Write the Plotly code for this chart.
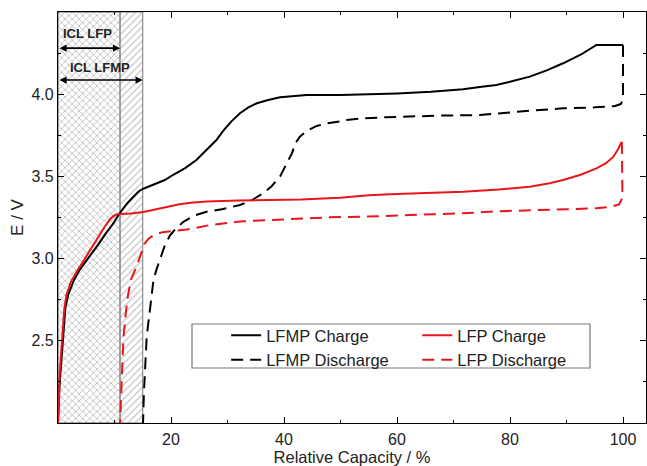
import plotly.graph_objects as go

# ---------------- data ----------------
lfmp_charge_x = [0, 0.1, 0.3, 0.65, 1.0, 1.3, 1.8, 2.7, 3.8, 5.1, 6.2, 7.2, 8.5, 9.8, 11.0, 12.2,
                 13.3, 14.3, 15.1, 16.5, 18.9, 20.4, 22.5, 24.5, 26.3, 28.0, 29.3, 30.7, 32.2,
                 33.7, 35.2, 37.2, 39.3, 42.0, 44.0, 50.0, 55.0, 60.0, 66.0, 71.7, 75.0, 77.6,
                 80.5, 83.5, 86.5, 89.4, 92.5, 95.3, 100.0]
lfmp_charge_y = [2.0, 2.1, 2.25, 2.40, 2.58, 2.70, 2.78, 2.86, 2.93, 2.99, 3.04, 3.09, 3.155,
                 3.215, 3.28, 3.335, 3.375, 3.41, 3.425, 3.445, 3.478, 3.51, 3.55, 3.60, 3.66,
                 3.72, 3.78, 3.835, 3.884, 3.92, 3.945, 3.965, 3.981, 3.99, 3.995, 3.995, 3.998,
                 4.005, 4.015, 4.03, 4.045, 4.056, 4.08, 4.107, 4.145, 4.188, 4.24, 4.30, 4.30]

lfmp_dis_x = [100.0, 100.0, 99.6, 98.6, 95.0, 89.4, 83.5, 79.0, 74.7, 68.0, 62.9, 58.0, 54.0,
              51.0, 50.0, 47.5, 45.8, 44.2, 42.8, 42.0, 41.4, 40.4, 39.3, 37.8, 36.3, 34.3,
              32.2, 29.0, 26.3, 24.0, 22.2, 20.8, 19.8, 18.9, 18.05, 17.4, 16.9, 16.5, 16.1,
              15.7, 15.4, 15.2, 15.05]
lfmp_dis_y = [4.30, 3.965, 3.94, 3.928, 3.92, 3.914, 3.90, 3.885, 3.873, 3.87, 3.867, 3.86,
              3.853, 3.843, 3.835, 3.822, 3.807, 3.78, 3.742, 3.70, 3.64, 3.57, 3.50, 3.44,
              3.397, 3.355, 3.326, 3.30, 3.285, 3.26, 3.224, 3.18, 3.14, 3.08, 3.0, 2.93, 2.87,
              2.77, 2.64, 2.525, 2.35, 2.18, 2.0]

lfp_charge_x = [0, 0.1, 0.3, 0.5, 0.8, 1.1, 1.5, 2.3, 3.3, 4.7, 6.0, 7.3, 8.3, 9.2, 9.8, 10.3,
                11.0, 13.0, 15.1, 17.0, 19.2, 21.5, 23.5, 26.3, 32.0, 38.1, 43.0, 49.9, 55.0,
                59.9, 66.0, 71.7, 78.0, 83.5, 87.0, 89.4, 92.5, 95.3, 97.0, 98.3, 99.2, 99.75]
lfp_charge_y = [2.0, 2.15, 2.30, 2.40, 2.55, 2.69, 2.78, 2.86, 2.92, 3.00, 3.07, 3.14, 3.195,
                3.24, 3.258, 3.268, 3.272, 3.275, 3.283, 3.298, 3.316, 3.33, 3.34, 3.348,
                3.354, 3.356, 3.36, 3.37, 3.385, 3.393, 3.40, 3.407, 3.42, 3.437, 3.458, 3.478,
                3.51, 3.549, 3.58, 3.62, 3.67, 3.71]

lfp_dis_x = [99.8, 99.9, 99.9, 99.3, 98.0, 95.3, 90.0, 83.5, 78.0, 71.7, 66.0, 59.9, 54.0,
             48.1, 44.0, 39.3, 32.2, 26.9, 24.5, 22.8, 20.4, 18.5, 17.0, 16.0, 15.3, 14.5,
             13.9, 13.0, 12.4, 12.0, 11.6, 11.3, 11.1, 11.0]
lfp_dis_y = [3.71, 3.50, 3.37, 3.33, 3.316, 3.306, 3.30, 3.296, 3.288, 3.276, 3.268, 3.259,
             3.255, 3.251, 3.245, 3.239, 3.226, 3.204, 3.19, 3.177, 3.168, 3.16, 3.145, 3.12,
             3.09, 3.01, 2.95, 2.88, 2.78, 2.67, 2.525, 2.28, 2.12, 2.0]

icl_lfp = 11.0
icl_lfmp = 15.0

x_ticks = [20, 40, 60, 80, 100]
x_minor = [10, 30, 50, 70, 90]
y_ticks = [2.5, 3.0, 3.5, 4.0]
y_labels = ["2.5", "3.0", "3.5", "4.0"]
y_minor = [2.25, 2.75, 3.25, 3.75, 4.25]

X_RANGE = [0, 104.07]
Y_RANGE = [2.0, 4.5]

FONT = "Liberation Sans, Arial, sans-serif"

fig = go.Figure()

# hatched ICL regions
fig.add_trace(go.Scatter(
    x=[0, icl_lfp, icl_lfp, 0, 0], y=[Y_RANGE[0], Y_RANGE[0], Y_RANGE[1], Y_RANGE[1], Y_RANGE[0]],
    mode="lines", fill="toself", line=dict(color="#555555", width=1),
    fillcolor="rgba(0,0,0,0)",
    fillpattern=dict(shape="x", fgcolor="#7a7a7a", bgcolor="white", size=5, solidity=0.3),
    showlegend=False, hoverinfo="skip"))
fig.add_trace(go.Scatter(
    x=[icl_lfp, icl_lfmp, icl_lfmp, icl_lfp, icl_lfp],
    y=[Y_RANGE[0], Y_RANGE[0], Y_RANGE[1], Y_RANGE[1], Y_RANGE[0]],
    mode="lines", fill="toself", line=dict(color="#777777", width=1),
    fillcolor="rgba(0,0,0,0)",
    fillpattern=dict(shape="/", fgcolor="#8a8a8a", bgcolor="white", size=5, solidity=0.25),
    showlegend=False, hoverinfo="skip"))

DASH = "12px,7px"
fig.add_trace(go.Scatter(x=lfmp_charge_x, y=lfmp_charge_y, mode="lines", name="LFMP Charge",
                         line=dict(color="black", width=2), legend="legend"))
fig.add_trace(go.Scatter(x=lfmp_dis_x, y=lfmp_dis_y, mode="lines", name="LFMP Discharge",
                         line=dict(color="black", width=2, dash=DASH), legend="legend"))
fig.add_trace(go.Scatter(x=lfp_charge_x, y=lfp_charge_y, mode="lines", name="LFP Charge",
                         line=dict(color="#e8161b", width=2), legend="legend2"))
fig.add_trace(go.Scatter(x=lfp_dis_x, y=lfp_dis_y, mode="lines", name="LFP Discharge",
                         line=dict(color="#e8161b", width=2, dash=DASH), legend="legend2"))

# legend frame
fig.add_shape(type="rect", xref="paper", yref="paper", x0=0.2279, x1=0.9048, y0=0.1338, y1=0.2409,
              line=dict(color="#777777", width=1.2), fillcolor="white", layer="above")

# ICL arrows and labels
for xe, ya in [(icl_lfp, 4.28), (icl_lfmp, 4.086)]:
    fig.add_annotation(x=xe, y=ya, ax=0, ay=ya, xref="x", yref="y", axref="x", ayref="y",
                       showarrow=True, arrowhead=2, startarrowhead=2, arrowside="end+start",
                       arrowsize=0.9, arrowwidth=1.6, arrowcolor="black", text="",
                       standoff=0, startstandoff=0)
fig.add_annotation(x=5.3, y=4.37, xref="x", yref="y", text="<b>ICL LFP</b>", showarrow=False,
                   font=dict(family=FONT, size=13, color="#222222"))
fig.add_annotation(x=7.5, y=4.165, xref="x", yref="y", text="<b>ICL LFMP</b>", showarrow=False,
                   font=dict(family=FONT, size=13, color="#222222"))

axis_common = dict(showline=True, linecolor="black", linewidth=1.3, mirror="ticks",
                   ticks="inside", ticklen=6, tickwidth=1.3, tickcolor="black",
                   showgrid=False, zeroline=False, automargin=False,
                   tickfont=dict(family=FONT, size=16, color="#222222"))

LEG_FONT = dict(family=FONT, size=16.5, color="#222222")

fig.update_layout(
    width=647, height=466,
    margin=dict(l=58, r=1, t=12, b=43, autoexpand=False),
    paper_bgcolor="white", plot_bgcolor="white",
    font=dict(family=FONT, size=16, color="#222222"),
    xaxis=dict(range=X_RANGE, tickmode="array", tickvals=x_ticks, ticklabelstandoff=2,
               minor=dict(tickmode="array", tickvals=x_minor, ticks="inside", ticklen=3,
                          tickwidth=1.2, tickcolor="black"),
               title=dict(text="Relative Capacity / %", standoff=4,
                          font=dict(family=FONT, size=16.5, color="#222222")),
               **axis_common),
    yaxis=dict(range=Y_RANGE, tickmode="array", tickvals=y_ticks, ticktext=y_labels,
               minor=dict(tickmode="array", tickvals=y_minor, ticks="inside", ticklen=3,
                          tickwidth=1.2, tickcolor="black"),
               title=dict(text="E / V", standoff=3,
                          font=dict(family=FONT, size=17, color="#222222")),
               **axis_common),
    legend=dict(x=0.286, y=0.2555, xanchor="left", yanchor="top", bgcolor="rgba(0,0,0,0)",
                borderwidth=0, tracegroupgap=0, itemwidth=30, font=LEG_FONT),
    legend2=dict(x=0.611, y=0.2555, xanchor="left", yanchor="top", bgcolor="rgba(0,0,0,0)",
                 borderwidth=0, tracegroupgap=0, itemwidth=30, font=LEG_FONT),
    showlegend=True,
)

fig.write_html("out.html", config={"displayModeBar": False},
               post_script="document.body.style.margin='0';")
